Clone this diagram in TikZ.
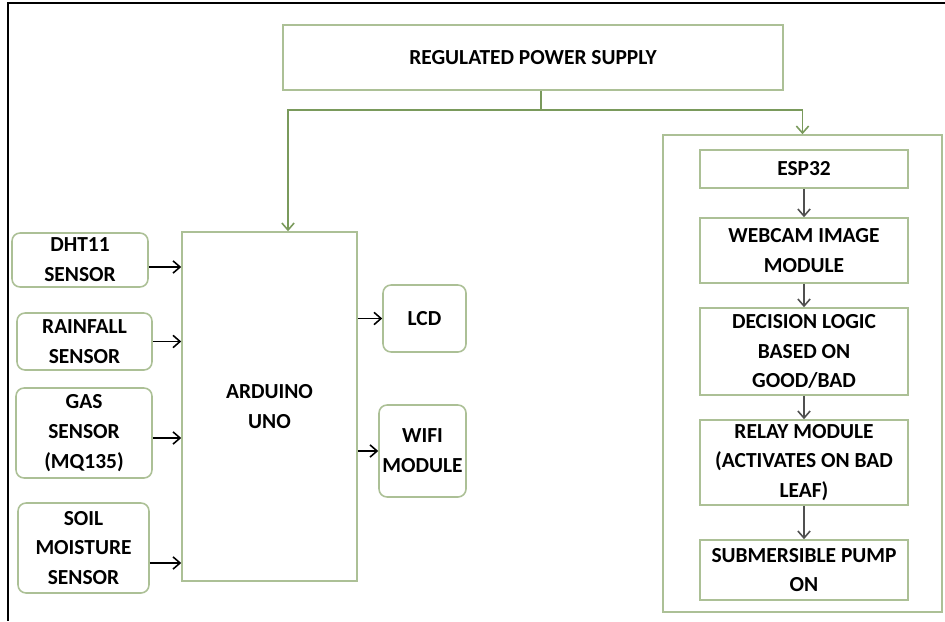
\documentclass[tikz,border=0pt]{standalone}
\usepackage{fontspec}
\setmainfont{Carlito}
\usepackage{xcolor}
\usetikzlibrary{arrows.meta}

\definecolor{boxgreen}{RGB}{172,192,150}
\definecolor{wiregreen}{RGB}{122,154,92}
\definecolor{flowgray}{RGB}{80,80,80}

\tikzset{
 blk/.style={draw=boxgreen,line width=0.9pt,inner sep=0pt,align=center,
  font=\bfseries\fontsize{12.2}{17}\selectfont},
 rblk/.style={blk,rounded corners=0.16cm},
 sig/.style={-{Straight Barb[length=4pt,width=7pt]},line width=0.9pt},
 pwr/.style={sig,draw=wiregreen},
 flow/.style={sig,draw=flowgray}
}

\begin{document}
\begin{tikzpicture}[x=0.02cm,y=-0.02cm]
 \useasboundingbox (0,0) rectangle (945,621);
 \draw[line width=1.2pt] (945,3)--(8,3)--(8,621);

 % power and controller
 \node[blk,minimum width=10cm,minimum height=1.3cm] (power) at (533,57.5) {REGULATED POWER SUPPLY};
 \node[blk,minimum width=3.5cm,minimum height=6.98cm] (uno) at (269.5,406.5) {ARDUINO\\UNO};

 % sensors
 \node[rblk,minimum width=2.72cm,minimum height=1.08cm] (dht) at (80,260) {DHT11\\SENSOR};
 \node[rblk,minimum width=2.7cm,minimum height=1.14cm] (rain) at (84.5,341.5) {RAINFALL\\SENSOR};
 \node[rblk,minimum width=2.72cm,minimum height=1.8cm] (gas) at (84,433) {GAS\\SENSOR\\(MQ135)};
 \node[rblk,minimum width=2.62cm,minimum height=1.8cm] (soil) at (83.5,548) {SOIL\\MOISTURE\\SENSOR};

 % outputs
 \node[rblk,minimum width=1.66cm,minimum height=1.34cm] (lcd) at (424.5,318.5) {LCD};
 \node[rblk,minimum width=1.74cm,minimum height=1.84cm] (wifi) at (422.5,451) {WIFI\\MODULE};

 % leaf detection chain
 \node[blk,minimum width=5.58cm,minimum height=9.54cm] (chain) at (802.5,373.5) {};
 \node[blk,minimum width=4.16cm,minimum height=0.76cm] (esp) at (804,169) {ESP32};
 \node[blk,minimum width=4.16cm,minimum height=1.3cm] (cam) at (804,250.5) {WEBCAM IMAGE\\MODULE};
 \node[blk,minimum width=4.16cm,minimum height=1.74cm] (logic) at (804,351.5) {DECISION LOGIC\\BASED ON\\GOOD/BAD};
 \node[blk,minimum width=4.16cm,minimum height=1.7cm] (relay) at (804,462.5) {RELAY MODULE\\(ACTIVATES ON BAD\\LEAF)};
 \node[blk,minimum width=4.16cm,minimum height=1.2cm] (pump) at (804,570) {SUBMERSIBLE PUMP\\ON};

 % supply lines
 \coordinate (split) at (541,110);
 \draw[line width=0.9pt,wiregreen] (power.south -| split) -- (split);
 \draw[pwr] (split) -| ([xshift=0.37cm]uno.north);
 \draw[pwr] (split) -| (chain.north);

 % sensor inputs
 \draw[sig] ([yshift=-0.14cm]dht.east) -- ([yshift=-0.14cm]dht.east -| uno.west);
 \draw[sig] (rain.east) -- (rain.east -| uno.west);
 \draw[sig] ([yshift=-0.1cm]gas.east) -- ([yshift=-0.1cm]gas.east -| uno.west);
 \draw[sig] ([yshift=-0.3cm]soil.east) -- ([yshift=-0.3cm]soil.east -| uno.west);
 \draw[sig] (lcd.west -| uno.east) -- (lcd.west);
 \draw[sig] (wifi.west -| uno.east) -- (wifi.west);

 \draw[flow] (esp) -- (cam);
 \draw[flow] (cam) -- (logic);
 \draw[flow] (logic) -- (relay);
 \draw[flow] (relay) -- (pump);
\end{tikzpicture}
\end{document}
